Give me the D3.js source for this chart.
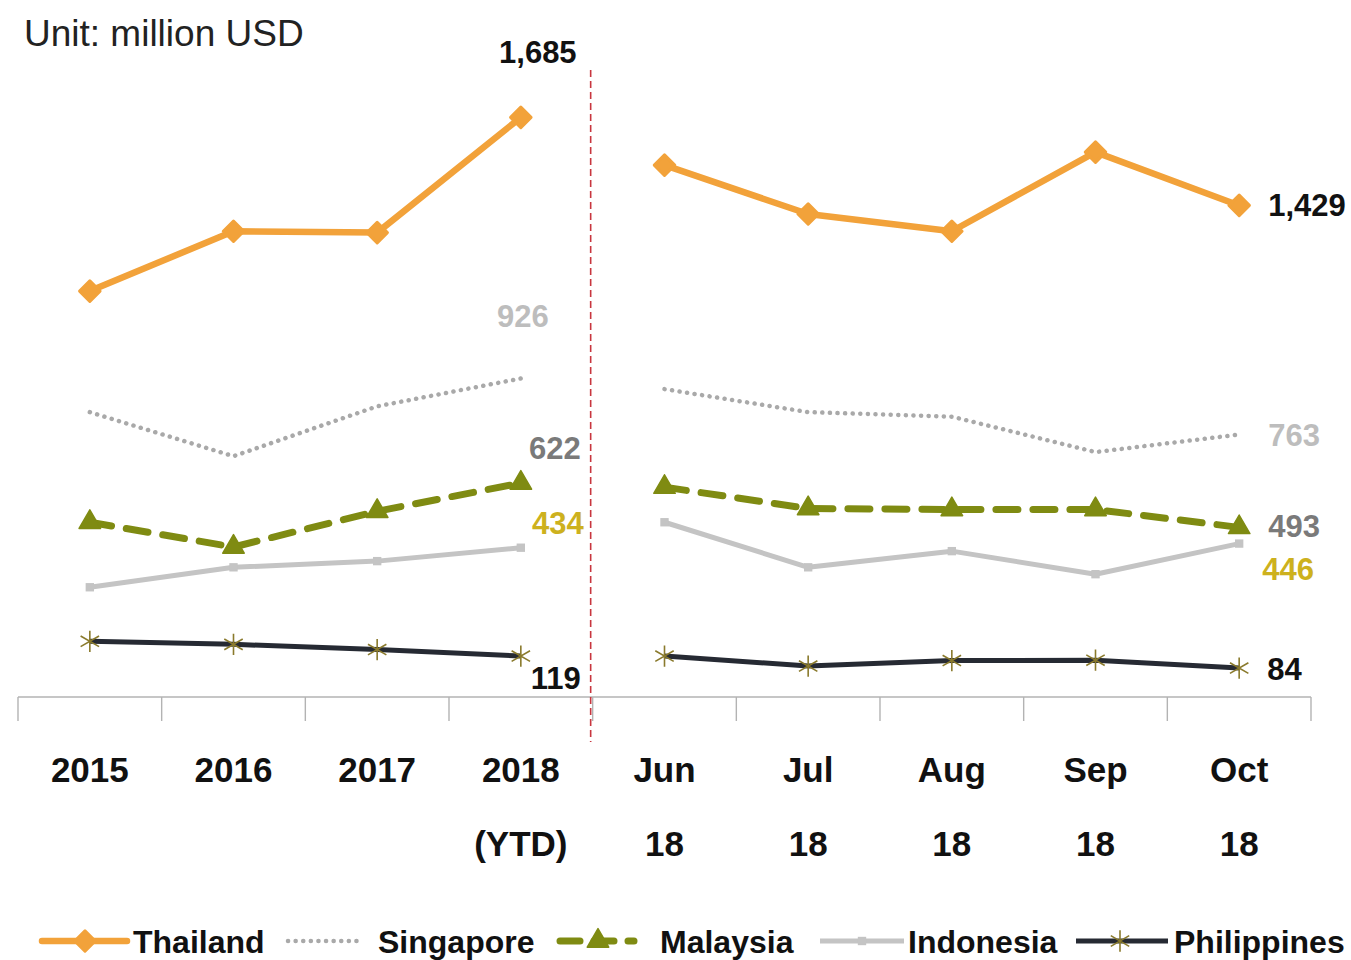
<!DOCTYPE html>
<html>
<head>
<meta charset="utf-8">
<script src="https://cdn.jsdelivr.net/npm/d3@7"></script>
<style>
  html, body { margin: 0; padding: 0; background: #ffffff; }
  svg { display: block; font-family: "Liberation Sans", Arial, sans-serif; }
</style>
</head>
<body>
<svg id="chart" width="1351" height="960"></svg>
<script>
// Periods on the x axis: annual totals, then monthly figures
const categories = ["2015", "2016", "2017", "2018", "Jun", "Jul", "Aug", "Sep", "Oct"];
const tickLine1 = ["2015", "2016", "2017", "2018", "Jun", "Jul", "Aug", "Sep", "Oct"];
const tickLine2 = ["", "", "", "(YTD)", "18", "18", "18", "18", "18"];

// Values, million USD
const thailand    = [1180, 1354, 1350, 1685, 1546, 1404, 1354, 1584, 1429];
const singapore   = [828, 700, 845, 926, 895, 828, 815, 712, 763];
const malaysia    = [508, 436, 540, 622, 610, 548, 545, 545, 493];
const indonesia   = [319, 377, 395, 434, 508, 377, 424, 357, 446];
const philippines = [162, 153, 138, 119, 119, 90, 106, 107, 84];

const seriesNames = ["Thailand", "Singapore", "Malaysia", "Indonesia", "Philippines"];

// Annual block and monthly block are drawn as separate line pieces
const segments = [[0, 4], [4, 9]];

const svg = d3.select("#chart");

const x = d3.scaleBand().domain(categories).range([18, 1311]).padding(0);
const y = d3.scaleLinear().domain([0, 2000]).range([697, 9]);
const cx = c => x(c) + x.bandwidth() / 2;

const styles = {
  Thailand:    { color: "#F2A23A", width: 6.5, dash: null, cap: "round", marker: "diamond", msize: 210, mfill: "#F2A23A" },
  Singapore:   { color: "#A9A9A9", width: 4.5, dash: "0.1,7.5", cap: "round", marker: null },
  Malaysia:    { color: "#7F8B12", width: 7, dash: "22,15", cap: "round", marker: "triangle", msize: 200, mfill: "#7F8B12" },
  Indonesia:   { color: "#C4C4C4", width: 5, dash: null, cap: "butt", marker: "square", msize: 70, mfill: "#C4C4C4" },
  Philippines: { color: "#262A33", width: 5, dash: null, cap: "butt", marker: "asterisk", msize: 320, mfill: "#8A7A2C" }
};
const dataByName = { Thailand: thailand, Singapore: singapore, Malaysia: malaysia, Indonesia: indonesia, Philippines: philippines };

// ---- axis ----
const axisG = svg.append("g").attr("transform", "translate(0,697)");
axisG.append("line").attr("x1", 18).attr("x2", 1311).attr("y1", 0).attr("y2", 0)
  .attr("stroke", "#B3B3B3").attr("stroke-width", 1.6);
const bounds = categories.map(c => x(c)).concat([x.range()[1]]);
axisG.selectAll("line.tick").data(bounds).join("line")
  .attr("class", "tick")
  .attr("x1", d => d).attr("x2", d => d).attr("y1", 0).attr("y2", 24)
  .attr("stroke", "#B3B3B3").attr("stroke-width", 1.4);

svg.append("g").selectAll("text").data(categories).join("text")
  .attr("x", d => cx(d)).attr("y", 782)
  .attr("text-anchor", "middle").attr("font-size", 35).attr("font-weight", "bold").attr("fill", "#111")
  .text((d, i) => tickLine1[i]);
svg.append("g").selectAll("text").data(categories).join("text")
  .attr("x", d => cx(d)).attr("y", 856)
  .attr("text-anchor", "middle").attr("font-size", 35).attr("font-weight", "bold").attr("fill", "#111")
  .text((d, i) => tickLine2[i]);

// divider between annual and monthly blocks
svg.append("line")
  .attr("x1", x("Jun") - 2).attr("x2", x("Jun") - 2).attr("y1", 70).attr("y2", 742)
  .attr("stroke", "#C8363F").attr("stroke-width", 1.6).attr("stroke-dasharray", "7,4");

// unit note
svg.append("text").attr("x", 24).attr("y", 46)
  .attr("font-size", 37).attr("fill", "#222").text("Unit: million USD");

// ---- marker drawing ----
function drawMarker(g, kind, px, py, st) {
  if (kind === "diamond") {
    g.append("path").attr("d", d3.symbol(d3.symbolSquare, st.msize)())
      .attr("transform", `translate(${px},${py}) rotate(45)`).attr("fill", st.mfill)
      .attr("stroke", st.mfill).attr("stroke-width", 3).attr("stroke-linejoin", "round");
  } else if (kind === "triangle") {
    g.append("path").attr("d", d3.symbol(d3.symbolTriangle, st.msize)())
      .attr("transform", `translate(${px},${py})`).attr("fill", st.mfill)
      .attr("stroke", st.mfill).attr("stroke-width", 1.5).attr("stroke-linejoin", "round");
  } else if (kind === "square") {
    g.append("path").attr("d", d3.symbol(d3.symbolSquare, st.msize)())
      .attr("transform", `translate(${px},${py})`).attr("fill", st.mfill);
  } else if (kind === "asterisk") {
    g.append("path").attr("d", d3.symbol(d3.symbolAsterisk, st.msize)())
      .attr("transform", `translate(${px},${py})`).attr("fill", "none")
      .attr("stroke", st.mfill).attr("stroke-width", 1.6);
  }
}

// ---- series lines ----
const line = d3.line().x(d => cx(d.c)).y(d => y(d.v));
const plot = svg.append("g");
seriesNames.forEach(name => {
  const st = styles[name];
  const vals = dataByName[name];
  const pts = categories.map((c, i) => ({ c, v: vals[i] }));
  const g = plot.append("g");
  segments.forEach(([a, b]) => {
    g.append("path").datum(pts.slice(a, b)).attr("d", line)
      .attr("fill", "none").attr("stroke", st.color).attr("stroke-width", st.width)
      .attr("stroke-linecap", st.cap).attr("stroke-linejoin", "round")
      .attr("stroke-dasharray", st.dash);
  });
  if (st.marker) pts.forEach(p => drawMarker(g, st.marker, cx(p.c), y(p.v), st));
});

// ---- value labels ----
const labels = [
  { series: "Thailand",    cat: "2018", dx: 17,  dy: -54, color: "#111111", anchor: "middle" },
  { series: "Thailand",    cat: "Oct",  dx: 29,  dy: 11,  color: "#111111", anchor: "start" },
  { series: "Singapore",   cat: "2018", dx: 2,   dy: -51, color: "#BDBDBD", anchor: "middle" },
  { series: "Singapore",   cat: "Oct",  dx: 29,  dy: 11,  color: "#BDBDBD", anchor: "start" },
  { series: "Malaysia",    cat: "2018", dx: 34,  dy: -24, color: "#7A7A7A", anchor: "middle" },
  { series: "Malaysia",    cat: "Oct",  dx: 29,  dy: 10,  color: "#7A7A7A", anchor: "start" },
  { series: "Indonesia",   cat: "2018", dx: 37,  dy: -14, color: "#CDB11E", anchor: "middle" },
  { series: "Indonesia",   cat: "Oct",  dx: 23,  dy: 36,  color: "#CDB11E", anchor: "start" },
  { series: "Philippines", cat: "2018", dx: 35,  dy: 33,  color: "#111111", anchor: "middle" },
  { series: "Philippines", cat: "Oct",  dx: 28,  dy: 12,  color: "#111111", anchor: "start" }
];
const fmt = d3.format(",");
svg.append("g").selectAll("text").data(labels).join("text")
  .attr("x", d => cx(d.cat) + d.dx)
  .attr("y", d => y(dataByName[d.series][categories.indexOf(d.cat)]) + d.dy)
  .attr("text-anchor", d => d.anchor)
  .attr("font-size", 31).attr("font-weight", "bold").attr("fill", d => d.color)
  .text(d => fmt(dataByName[d.series][categories.indexOf(d.cat)]));

// ---- legend ----
const legendItems = [
  { name: "Thailand",    x1: 42,   x2: 127,  mx: 85,   tx: 133 },
  { name: "Singapore",   x1: 288,  x2: 362,  mx: null, tx: 378 },
  { name: "Malaysia",    x1: 560,  x2: 634,  mx: 598,  tx: 660 },
  { name: "Indonesia",   x1: 820,  x2: 904,  mx: 862,  tx: 908 },
  { name: "Philippines", x1: 1076, x2: 1168, mx: 1120, tx: 1174 }
];
const lg = svg.append("g");
const ly = 941;
legendItems.forEach(it => {
  const st = styles[it.name];
  lg.append("line").attr("x1", it.x1).attr("x2", it.x2).attr("y1", ly).attr("y2", ly)
    .attr("stroke", st.color).attr("stroke-width", st.width)
    .attr("stroke-linecap", st.cap).attr("stroke-dasharray", it.name === "Malaysia" ? "20,14" : st.dash);
  if (st.marker && it.mx !== null) drawMarker(lg, st.marker, it.mx, ly, st);
  lg.append("text").attr("x", it.tx).attr("y", ly + 12)
    .attr("font-size", 32).attr("font-weight", "bold").attr("fill", "#111").text(it.name);
});
</script>
</body>
</html>
